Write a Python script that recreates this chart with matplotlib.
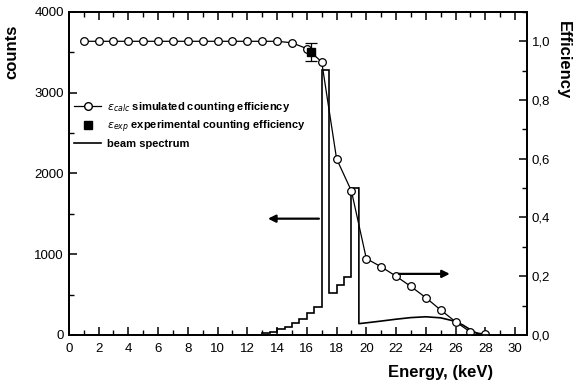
import matplotlib

matplotlib.use('Agg')
import matplotlib.pyplot as plt
import numpy as np
from matplotlib.lines import Line2D
from matplotlib.ticker import FuncFormatter, MultipleLocator

plt.rcParams['font.family'] = ['Liberation Sans', 'DejaVu Sans']

# simulated counting efficiency vs energy (keV)
eff_energy = np.arange(1, 29)
eff_calc = [1.0, 1.0, 1.0, 1.0, 1.0, 1.0, 1.0, 1.0, 1.0, 1.0, 1.0, 1.0, 1.0, 1.0,
            0.995, 0.975, 0.93, 0.60, 0.49, 0.26, 0.232, 0.20, 0.165, 0.127,
            0.085, 0.045, 0.01, 0.003]

# experimental point
exp_energy = [16.3]
exp_eff = [0.963]
exp_err = [0.03]

# beam spectrum: histogram part (0.5 keV bins) + continuum after 19.5 keV
hist_edges = np.arange(12.5, 19.51, 0.5)
hist_counts = [5, 20, 35, 70, 100, 150, 200, 270, 350,
               3280, 520, 615, 715, 1820]
cont_energy = [19.5, 20, 21, 22, 23, 24, 25, 26, 26.5, 27, 27.5, 28]
cont_counts = [140, 150, 172, 195, 215, 225, 212, 168, 122, 65, 15, 0]

fig = plt.figure(figsize=(5.74, 3.85), dpi=100)
ax = fig.add_axes([0.120, 0.130, 0.798, 0.839])
ax2 = ax.twinx()

ax.stairs(hist_counts, hist_edges, baseline=None, color='k', lw=1.2)
ax.plot([hist_edges[-1]] + cont_energy, [hist_counts[-1]] + cont_counts,
        color='k', lw=1.2)

ax2.plot(eff_energy, eff_calc, color='k', lw=0.9, marker='o', ms=5.5,
         mfc='white', mec='k', mew=0.9)
ax2.errorbar(exp_energy, exp_eff, yerr=exp_err, fmt='s', color='k', ms=5.5,
             capsize=4, elinewidth=0.9, capthick=0.9)

ax.annotate('', xy=(13.2, 1440), xytext=(17.0, 1440),
            arrowprops=dict(arrowstyle='-|>', lw=1.6, color='k',
                            mutation_scale=11))
ax2.annotate('', xy=(25.8, 0.208), xytext=(22.0, 0.208),
             arrowprops=dict(arrowstyle='-|>', lw=1.6, color='k',
                             mutation_scale=11))

ax.set_xlim(0, 30.8)
ax.set_ylim(0, 4000)
ax2.set_ylim(0, 1.1)

ax.xaxis.set_major_locator(MultipleLocator(2))
ax.xaxis.set_minor_locator(MultipleLocator(1))
ax.yaxis.set_major_locator(MultipleLocator(1000))
ax.yaxis.set_minor_locator(MultipleLocator(500))
ax2.yaxis.set_major_locator(MultipleLocator(0.2))
ax2.yaxis.set_minor_locator(MultipleLocator(0.1))
ax2.yaxis.set_major_formatter(FuncFormatter(lambda v, _: f'{v:.1f}'.replace('.', ',')))

ax.tick_params(which='both', direction='in', top=True, right=False, labelsize=9.5)
ax.tick_params(axis='x', pad=6)
ax.tick_params(which='major', length=6, width=1.1)
ax.tick_params(which='minor', length=3.5, width=1.0)
ax2.tick_params(which='both', direction='in', labelsize=9.5)
ax2.tick_params(which='major', length=6, width=1.1)
ax2.tick_params(which='minor', length=3.5, width=1.0)
for a in (ax, ax2):
    for s in a.spines.values():
        s.set_linewidth(1.3)

ax.set_ylabel('counts', fontsize=12, fontweight='bold')
ax.yaxis.set_label_coords(-0.107, 0.876)
ax.set_xlabel('Energy, (keV)', fontsize=12, fontweight='bold')
ax.xaxis.set_label_coords(0.812, -0.094)
ax2.set_ylabel('Efficiency', fontsize=12, fontweight='bold', rotation=270,
               va='center')
ax2.yaxis.set_label_coords(1.079, 0.85)

handles = [
    Line2D([], [], color='k', lw=0.9, marker='o', ms=5.5, mfc='white', mec='k'),
    Line2D([], [], color='k', lw=0, marker='s', ms=5.5),
    Line2D([], [], color='k', lw=1.2),
]
labels = [r'$\epsilon_{calc}$ simulated counting efficiency',
          r'$\epsilon_{exp}$ experimental counting efficiency',
          'beam spectrum']
ax2.legend(handles, labels, loc='upper left', bbox_to_anchor=(0.012, 0.728),
           frameon=False, prop={'weight': 'bold', 'size': 8},
           handlelength=2.4, handletextpad=0.5, labelspacing=0.4, borderpad=0,
           borderaxespad=0)

fig.savefig('out.png', dpi=100)
